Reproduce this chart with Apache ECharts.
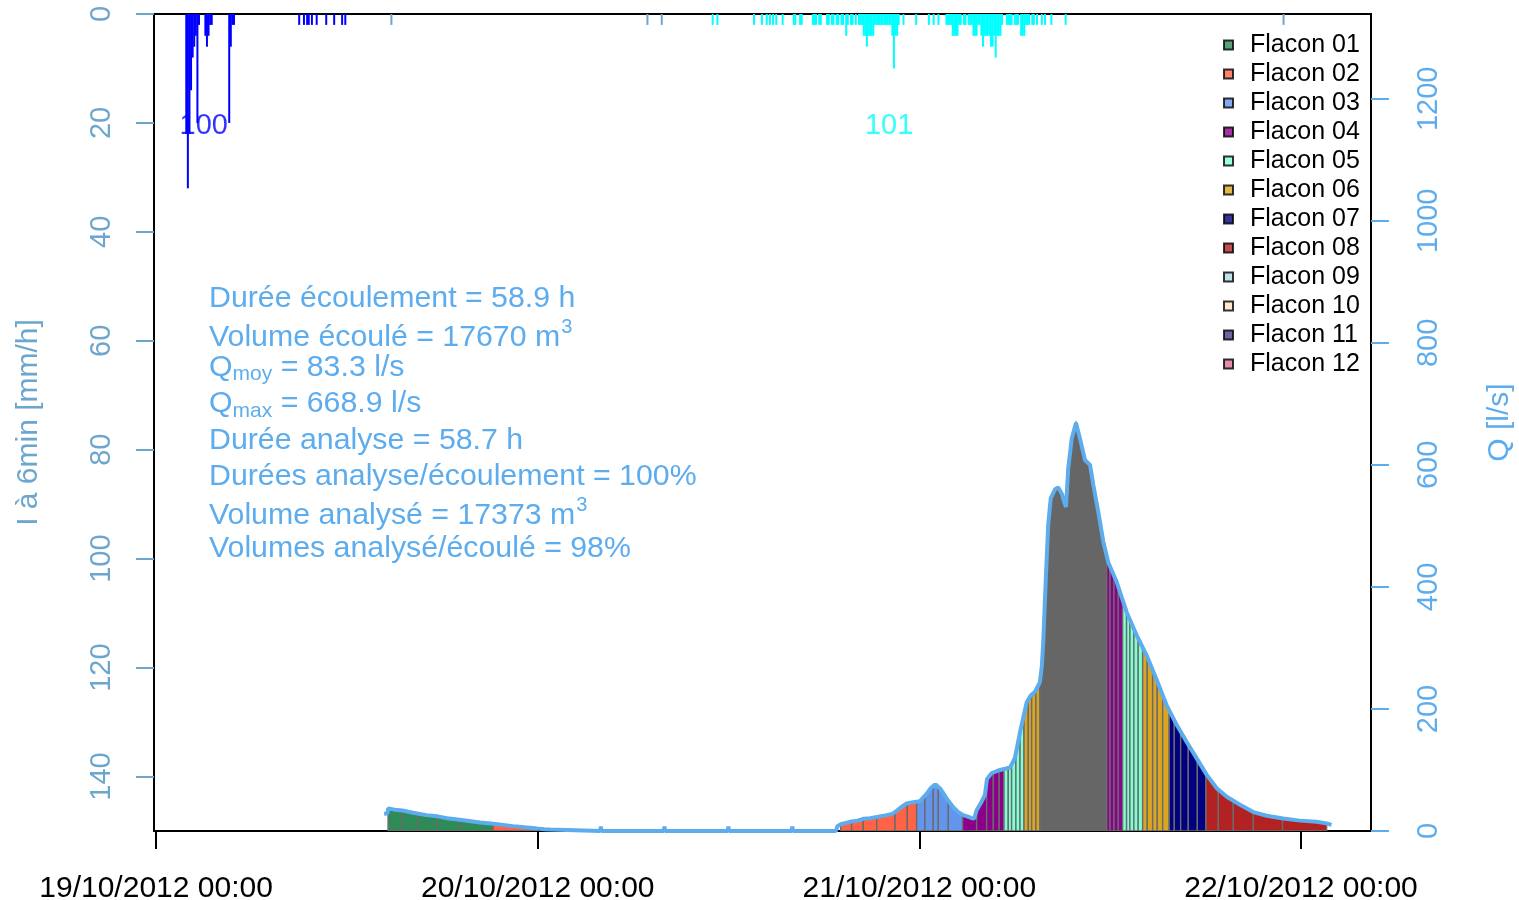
<!DOCTYPE html>
<html>
<head>
<meta charset="utf-8">
<script src="https://cdn.jsdelivr.net/npm/echarts@6/dist/echarts.min.js"></script>
<style>
html, body { margin: 0; padding: 0; background: #fff; }
#chart { width: 1519px; height: 900px; }
</style>
</head>
<body>
<div id="chart"></div>
<script>
// ---------------- data ----------------
// time is expressed in hours since 19/10/2012 00:00
const dayTicks = [0, 24, 48, 72];
const dayLabels = ['19/10/2012 00:00', '20/10/2012 00:00', '21/10/2012 00:00', '22/10/2012 00:00'];
const rainTicks = [0, 20, 40, 60, 80, 100, 120, 140];
const flowTicks = [0, 200, 400, 600, 800, 1000, 1200];

// 6-min rain intensity [mm/h], event 100
const rainEvent100 = [
  [1.9, 22], [2.0, 32], [2.1, 22], [2.2, 14], [2.3, 8], [2.4, 6], [2.5, 4], [2.6, 20], [2.7, 2],
  [3.1, 4], [3.2, 6], [3.3, 4], [3.4, 2], [3.5, 2],
  [4.6, 20], [4.7, 6], [4.8, 2], [4.9, 2],
  [9.0, 2], [9.3, 2], [9.5, 2], [9.6, 2], [9.8, 2], [10.1, 2], [10.7, 2], [11.2, 2], [11.7, 2], [11.9, 2]
];
// 6-min rain intensity [mm/h], event 101
const rainEvent101 = [
  [35.0, 2], [35.3, 2], [37.6, 2], [38.1, 2], [38.4, 2], [38.6, 2], [38.8, 2], [39.0, 2], [39.4, 2],
  [40.1, 2], [40.2, 2], [40.5, 2], [40.6, 2],
  [41.3, 2], [41.4, 2], [41.5, 2], [41.7, 2], [41.8, 2],
  [42.2, 2], [42.3, 2], [42.5, 2], [42.6, 2], [42.8, 2], [42.9, 2],
  [43.1, 2], [43.2, 2], [43.4, 4], [43.5, 2], [43.7, 2], [43.8, 2], [44.0, 2], [44.2, 2],
  [44.3, 2], [44.4, 2], [44.5, 4], [44.6, 4], [44.7, 6], [44.8, 4], [44.9, 4], [45.0, 4], [45.1, 4],
  [45.2, 2], [45.3, 2], [45.4, 2], [45.5, 2], [45.6, 2], [45.7, 2], [45.8, 2], [45.9, 2], [46.0, 2],
  [46.1, 2], [46.2, 2], [46.3, 4], [46.4, 10], [46.5, 4], [46.6, 4], [46.7, 2],
  [47.0, 2], [47.8, 2], [48.6, 2], [48.9, 2], [49.2, 2],
  [49.7, 2], [49.8, 2], [49.9, 2], [50.0, 2], [50.1, 4], [50.2, 4], [50.3, 4], [50.4, 4], [50.5, 2],
  [50.6, 2], [50.8, 2], [50.9, 2],
  [51.1, 2], [51.2, 2], [51.3, 2], [51.4, 4], [51.5, 4], [51.6, 4], [51.7, 2], [51.8, 2], [51.9, 4],
  [52.0, 6], [52.1, 4], [52.2, 4], [52.3, 4], [52.4, 4], [52.5, 6], [52.6, 6], [52.7, 4], [52.8, 8],
  [52.9, 4], [53.0, 4], [53.1, 4], [53.2, 2],
  [53.5, 2], [53.6, 2], [53.7, 2], [53.8, 2], [54.0, 2], [54.1, 2], [54.2, 2], [54.4, 4], [54.5, 4],
  [54.6, 4], [54.7, 2], [54.8, 2], [54.9, 2], [55.1, 2], [55.2, 2], [55.4, 2],
  [55.7, 2], [55.9, 2], [56.3, 2], [57.2, 2]
];
// rain outside of any event
const rainOutside = [[14.8, 2], [30.9, 2], [31.8, 2], [70.9, 2]];

const eventNames = ['100', '101'];
const eventTimes = [3.0, 46.1];
const eventLabelLevel = 20;

// discharge Q [l/s]
const flow = [
  [14.34, 28], [14.55, 29], [14.6, 37], [15.0, 35], [15.5, 33.5], [16.16, 30], [17.0, 26], [17.7, 24],
  [18.3, 21], [19.1, 18.5], [20.37, 14], [21.2, 12], [22.45, 8], [23.2, 6], [23.96, 4], [24.4, 3],
  [24.77, 2.5], [24.85, 0],
  [27.92, 0], [27.97, 7], [28.02, 0], [31.92, 0], [31.97, 7], [32.02, 0],
  [35.94, 0], [35.99, 7], [36.04, 0], [39.96, 0], [40.01, 7], [40.06, 0],
  [42.75, 0], [42.85, 8], [43.05, 11], [43.64, 15], [44.1, 17], [44.47, 20], [44.9, 21], [45.32, 23],
  [45.94, 26], [46.3, 28], [46.57, 33], [46.9, 40], [47.2, 45], [47.62, 47], [48.04, 49], [48.25, 55],
  [48.46, 61], [48.7, 70], [48.98, 76], [49.1, 77], [49.3, 70], [49.5, 62], [49.72, 53], [50.13, 39],
  [50.45, 31], [50.76, 26], [51.0, 24], [51.3, 21], [51.45, 20.5], [51.6, 34], [51.85, 45], [52.12, 59],
  [52.25, 85], [52.55, 95], [53.07, 100], [53.4, 102], [53.7, 104], [54.01, 120], [54.2, 145],
  [54.33, 162], [54.75, 211], [55.0, 222], [55.27, 228], [55.58, 244], [55.7, 270], [55.79, 310],
  [55.96, 419], [56.1, 501], [56.26, 545], [56.53, 560], [56.73, 563], [56.95, 553], [57.1, 540],
  [57.22, 531], [57.36, 594], [57.58, 643], [57.85, 668.9], [58.1, 643], [58.41, 608], [58.73, 600],
  [58.94, 567], [59.25, 523], [59.56, 475], [59.88, 440], [60.41, 408], [61.03, 359], [61.66, 321],
  [62.29, 288], [62.92, 248], [63.55, 206], [64.18, 174], [64.81, 146], [65.44, 119], [66.07, 92],
  [66.7, 70], [67.33, 56], [68.16, 43], [69.0, 31], [69.84, 25], [70.88, 20.5], [71.93, 17],
  [72.98, 15], [73.6, 12.5], [73.92, 10]
];

// sampled volumes: [start h, end h, flacon number] (0 = densely sampled stretch)
const aliquots = [
  [14.59, 15.47, 1], [15.47, 16.47, 1], [16.47, 17.67, 1], [17.67, 19.11, 1], [19.11, 21.19, 1],
  [21.19, 23.96, 2],
  [43.05, 43.74, 2], [43.74, 44.47, 2], [44.47, 45.32, 2], [45.32, 46.47, 2], [46.47, 47.24, 2],
  [47.24, 47.83, 2],
  [47.83, 48.35, 3], [48.35, 48.87, 3], [48.87, 49.19, 3], [49.19, 49.82, 3], [49.82, 50.72, 3],
  [50.72, 51.60, 4], [51.60, 52.23, 4], [52.23, 52.65, 4], [52.65, 53.02, 4], [53.02, 53.32, 4],
  [53.32, 53.59, 5], [53.59, 53.80, 5], [53.80, 54.07, 5], [54.07, 54.33, 5], [54.33, 54.58, 5],
  [54.58, 54.85, 6], [54.85, 55.06, 6], [55.06, 55.33, 6], [55.33, 55.58, 6],
  [55.58, 59.78, 0],
  [59.78, 59.99, 4], [59.99, 60.24, 4], [60.24, 60.51, 4], [60.51, 60.78, 4],
  [60.78, 61.03, 5], [61.03, 61.24, 5], [61.24, 61.49, 5], [61.49, 61.76, 5], [61.76, 62.04, 5],
  [62.04, 62.33, 6], [62.33, 62.67, 6], [62.67, 62.96, 6], [62.96, 63.30, 6], [63.30, 63.71, 6],
  [63.71, 64.03, 7], [64.03, 64.43, 7], [64.43, 64.91, 7], [64.91, 65.48, 7], [65.48, 66.02, 7],
  [66.02, 66.80, 8], [66.80, 67.74, 8], [67.74, 69.0, 8], [69.0, 70.84, 8], [70.84, 73.61, 8]
];

const flaconNames = ['Flacon 01', 'Flacon 02', 'Flacon 03', 'Flacon 04', 'Flacon 05', 'Flacon 06',
  'Flacon 07', 'Flacon 08', 'Flacon 09', 'Flacon 10', 'Flacon 11', 'Flacon 12'];

// summary text, one entry per line: [text, 'sub' | 'sup' | undefined]
const statLines = [
  [['Durée écoulement = 58.9 h']],
  [['Volume écoulé = 17670 m'], ['3', 'sup']],
  [['Q'], ['moy', 'sub'], [' = 83.3 l/s']],
  [['Q'], ['max', 'sub'], [' = 668.9 l/s']],
  [['Durée analyse = 58.7 h']],
  [['Durées analyse/écoulement = 100%']],
  [['Volume analysé = 17373 m'], ['3', 'sup']],
  [['Volumes analysé/écoulé = 98%']]
];

// ---------------- styling ----------------
const FONT = '"Liberation Sans", Arial, Helvetica, sans-serif';
const flaconColors = ['#2E8B57', '#FF6347', '#6495ED', '#8B008B', '#7FFFD4', '#DAA520',
  '#000080', '#B22222', '#ADD8E6', '#FFE4C4', '#483D8B', '#DB7093'];
const denseColor = '#666666';
const rainAxisColor = '#6CA6CD';
const flowColor = '#5CACEE';

const GRID = { left: 154, top: 14, width: 1217, height: 817 };

// discharge between two recorded points, used to close the sample polygons
function flowAt(t) {
  for (let i = 1; i < flow.length; i++) {
    if (flow[i][0] >= t) {
      const a = flow[i - 1], b = flow[i];
      return a[1] + (b[1] - a[1]) * (t - a[0]) / (b[0] - a[0]);
    }
  }
  return flow[flow.length - 1][1];
}

// summary text block, sub/superscripts placed by measured widths
const measureCtx = document.createElement('canvas').getContext('2d');
function textWidth(str, size) {
  measureCtx.font = size + 'px ' + FONT;
  return measureCtx.measureText(str).width;
}
const statBaselines = [309.7, 348, 378, 414.7, 451.3, 487, 526.3, 559.7];
const statGraphics = [];
statLines.forEach((line, i) => {
  let x = 209;
  line.forEach(([txt, kind]) => {
    const size = kind === 'sub' ? 21 : (kind === 'sup' ? 20 : 30.3);
    const shift = kind === 'sub' ? 4 : (kind === 'sup' ? -14 : 0);
    const base = statBaselines[i] + shift;
    statGraphics.push({
      type: 'text',
      x: x + (kind === 'sup' ? 1 : 0),
      y: base - 0.35 * size,
      silent: true,
      style: {
        text: txt,
        font: size + 'px ' + FONT,
        fill: flowColor,
        align: 'left', verticalAlign: 'middle',
        textAlign: 'left', textVerticalAlign: 'middle'
      }
    });
    x += textWidth(txt, size);
  });
});

// ---------------- chart ----------------
const chart = echarts.init(document.getElementById('chart'), null, { renderer: 'canvas' });

const flaconSeries = flaconNames.map((name, i) => ({
  name, type: 'scatter', data: [], itemStyle: { color: flaconColors[i] }
}));

const option = {
  animation: false,
  backgroundColor: '#fff',
  textStyle: { fontFamily: FONT },
  grid: Object.assign({
    show: true, borderColor: '#000', borderWidth: 2, backgroundColor: 'transparent',
    containLabel: false, outerBoundsMode: 'none'
  }, GRID),
  legend: {
    orient: 'vertical',
    left: 1218, top: 25.5,
    itemWidth: 9, itemHeight: 9, itemGap: 0,
    selectedMode: false,
    textStyle: { fontSize: 25, color: '#000', lineHeight: 29, padding: [0, 0, 0, 12], fontFamily: FONT },
    data: flaconNames.map((name, i) => ({
      name, icon: 'rect',
      itemStyle: { color: flaconColors[i], borderColor: '#000', borderWidth: 2 }
    }))
  },
  xAxis: [{
    type: 'value',
    position: 'bottom',
    min: -0.13, max: 76.4,
    axisLine: { show: false, onZero: false },
    splitLine: { show: false },
    axisTick: { show: true, inside: false, customValues: dayTicks, length: 18, lineStyle: { color: '#000', width: 2 } },
    axisLabel: {
      customValues: dayTicks, fontSize: 30, color: '#000', margin: 43,
      formatter: v => dayLabels[dayTicks.indexOf(v)] || ''
    }
  }],
  yAxis: [{
    type: 'value',
    min: 0, max: 150, inverse: true,
    position: 'left',
    name: 'I à 6min [mm/h]',
    nameLocation: 'middle', nameGap: 110,
    nameTextStyle: { fontSize: 30, color: rainAxisColor },
    axisLine: { show: false, onZero: false },
    splitLine: { show: false },
    axisTick: { show: true, customValues: rainTicks, length: 18, lineStyle: { color: rainAxisColor, width: 2 } },
    axisLabel: { customValues: rainTicks, rotate: 90, fontSize: 29, color: rainAxisColor, margin: 38,
      formatter: v => String(v) }
  }, {
    type: 'value',
    min: 0, max: 1339,
    position: 'right',
    name: 'Q [l/s]',
    nameLocation: 'middle', nameGap: 114,
    nameTextStyle: { fontSize: 30, color: flowColor },
    axisLine: { show: false, onZero: false },
    splitLine: { show: false },
    axisTick: { show: true, customValues: flowTicks, length: 18, lineStyle: { color: flowColor, width: 2 } },
    axisLabel: { customValues: flowTicks, rotate: 90, fontSize: 29, color: flowColor, margin: 43,
      formatter: v => String(v) }
  }],
  graphic: statGraphics,
  series: [
    {
      name: 'volumes', type: 'custom',
      xAxisIndex: 0, yAxisIndex: 1,
      data: aliquots,
      encode: { x: [0, 1], y: 2 },
      z: 2, clip: true,
      renderItem: (params, api) => {
        const t0 = api.value(0), t1 = api.value(1), f = api.value(2);
        const pts = [api.coord([t0, 0]), api.coord([t0, flowAt(t0)])];
        flow.forEach(p => { if (p[0] > t0 && p[0] < t1) pts.push(api.coord(p)); });
        pts.push(api.coord([t1, flowAt(t1)]), api.coord([t1, 0]));
        return {
          type: 'polygon',
          shape: { points: pts },
          style: { fill: f === 0 ? denseColor : flaconColors[f - 1], stroke: '#6b6b6b', lineWidth: 1.4 }
        };
      }
    },
    {
      name: 'Q', type: 'line',
      xAxisIndex: 0, yAxisIndex: 1,
      data: flow,
      symbol: 'none',
      lineStyle: { color: flowColor, width: 4 },
      z: 4
    },
    {
      name: 'pluie 100', type: 'bar',
      xAxisIndex: 0, yAxisIndex: 0,
      data: rainEvent100, barWidth: 2, barGap: '-100%',
      itemStyle: { color: '#0000FF' }, z: 3
    },
    {
      name: 'pluie 101', type: 'bar',
      xAxisIndex: 0, yAxisIndex: 0,
      data: rainEvent101, barWidth: 2, barGap: '-100%',
      itemStyle: { color: '#00FFFF' }, z: 3
    },
    {
      name: 'pluie hors événement', type: 'bar',
      xAxisIndex: 0, yAxisIndex: 0,
      data: rainOutside, barWidth: 2, barGap: '-100%',
      itemStyle: { color: rainAxisColor }, z: 3
    },
    {
      name: 'événements', type: 'scatter',
      xAxisIndex: 0, yAxisIndex: 0,
      symbolSize: 1,
      itemStyle: { color: 'transparent' },
      z: 5,
      data: eventNames.map((n, i) => ({
        value: [eventTimes[i], eventLabelLevel], name: n,
        label: { color: i === 0 ? '#0000FF' : '#00FFFF' }
      })),
      label: { show: true, position: 'inside', offset: [0, 3], fontSize: 29, formatter: p => p.name }
    }
  ].concat(flaconSeries)
};

chart.setOption(option);
</script>
</body>
</html>
